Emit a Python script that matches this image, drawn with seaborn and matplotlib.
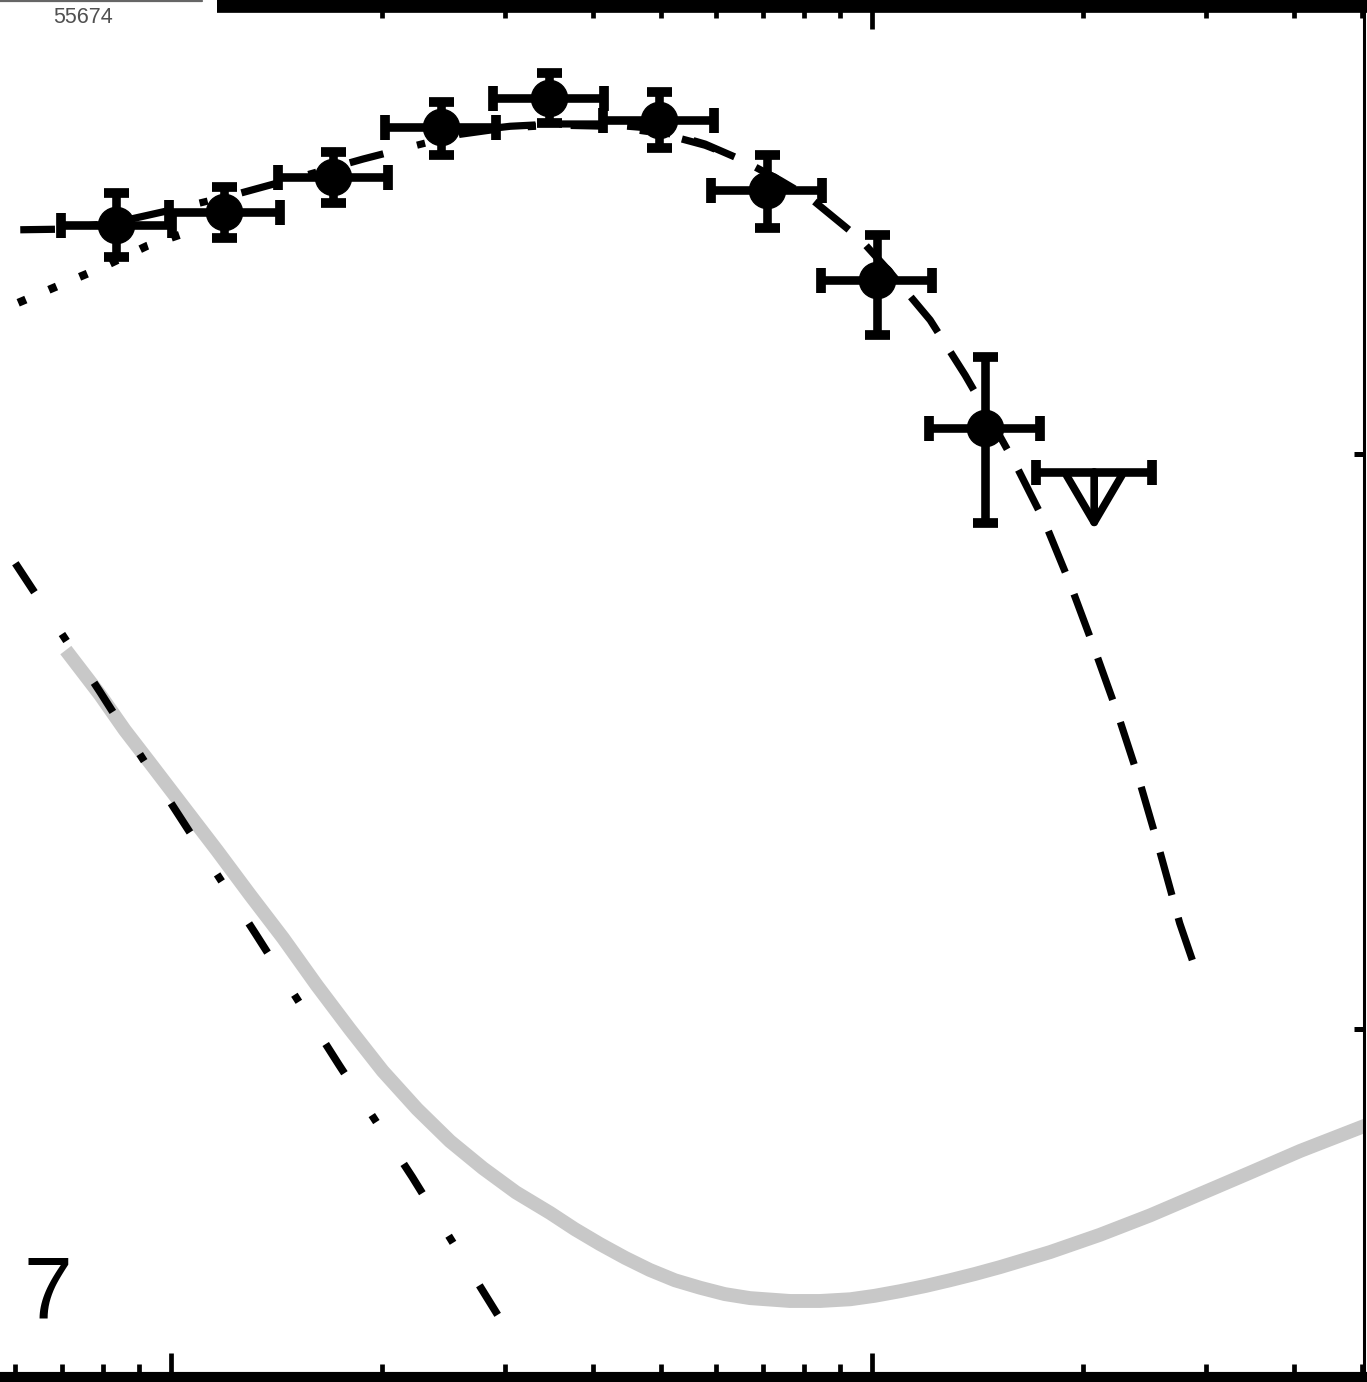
import numpy as np
import matplotlib
matplotlib.use("Agg")
import matplotlib.pyplot as plt
import seaborn as sns
from matplotlib.ticker import NullLocator, NullFormatter, LogLocator
from matplotlib.patches import Rectangle
from matplotlib.lines import Line2D

# ---------------- data (log10 nu [Hz], log10 nuFnu) ----------------
pt_lognu = [13.922, 14.076, 14.231, 14.385, 14.539, 14.696, 14.850, 15.007, 15.161]
pt_logf = [-11.602, -11.579, -11.518, -11.431, -11.381, -11.419, -11.541, -11.697, -11.955]
pt_dlo = [0.056, 0.045, 0.045, 0.049, 0.044, 0.049, 0.066, 0.096, 0.165]
pt_dhi = [0.056, 0.044, 0.044, 0.044, 0.044, 0.049, 0.061, 0.078, 0.123]
pt_dnu = 0.079

ul_lognu = [15.317]
ul_logf = [-12.031]
ul_dnu = 0.083
ul_arrow = 0.101

dot_lognu = [13.782, 13.842, 13.899, 13.966, 14.041]
dot_logf = [-11.737, -11.706, -11.677, -11.638, -11.607]

tot_lognu = [13.785, 13.842, 13.922, 13.999, 14.100, 14.184, 14.274, 14.341, 14.412,
             14.477, 14.548, 14.626, 14.698, 14.762, 14.819]
tot_logf = [-11.610, -11.609, -11.597, -11.576, -11.546, -11.518, -11.487, -11.466, -11.444,
            -11.433, -11.428, -11.430, -11.442, -11.463, -11.490]

dsh_lognu = [14.412, 14.484, 14.548, 14.612, 14.683, 14.762, 14.815, 14.869, 14.912, 14.983,
             15.026, 15.083, 15.133, 15.161, 15.204, 15.247, 15.284, 15.318, 15.350, 15.380,
             15.407, 15.439, 15.457]
dsh_logf = [-11.440, -11.430, -11.426, -11.426, -11.433, -11.461, -11.489, -11.524, -11.555, -11.626,
            -11.684, -11.767, -11.863, -11.922, -12.016, -12.120, -12.230, -12.341, -12.450, -12.562,
            -12.675, -12.816, -12.880]

stp_lognu = [13.778, 13.899, 14.001, 14.121, 14.240, 14.344, 14.469]
stp_logf = [-12.190, -12.414, -12.609, -12.835, -13.063, -13.257, -13.503]

gry_lognu = [13.850, 13.899, 13.934, 13.970, 14.017, 14.066, 14.113, 14.160, 14.208, 14.255,
             14.302, 14.351, 14.398, 14.445, 14.492, 14.541, 14.576, 14.612, 14.648, 14.683,
             14.719, 14.755, 14.790, 14.826, 14.883, 14.926, 14.969, 15.004, 15.040, 15.076,
             15.111, 15.147, 15.183, 15.254, 15.325, 15.397, 15.468, 15.539, 15.611, 15.710]
gry_logf = [-12.341, -12.419, -12.480, -12.537, -12.612, -12.690, -12.767, -12.842, -12.924, -13.000,
            -13.073, -13.139, -13.195, -13.242, -13.284, -13.320, -13.348, -13.374, -13.398, -13.419,
            -13.437, -13.450, -13.461, -13.468, -13.473, -13.473, -13.470, -13.464, -13.456, -13.447,
            -13.437, -13.426, -13.414, -13.388, -13.358, -13.324, -13.287, -13.250, -13.212, -13.165]

panel_label = "7"
legend_text = "55674"

# ---------------- figure ----------------
sns.set_theme(style="white")
plt.rcParams["font.family"] = ["Liberation Sans", "DejaVu Sans"]
plt.rcParams["lines.scale_dashes"] = False

W, H = 1367, 1382
fig = plt.figure(figsize=(W / 100, H / 100), dpi=100)
ax = fig.add_axes([0, 0, 1364 / W, 1])
ax.set_facecolor("white")
ax.set_xscale("log")
ax.set_yscale("log")
ax.set_xlim(10 ** 13.7561, 10 ** 15.7019)
ax.set_ylim(10 ** -13.6139, 10 ** -11.2104)


def draw(lognu, logf, color, lw, dashes, z, reverse=False):
    xs = 10 ** np.array(lognu)
    ys = 10 ** np.array(logf)
    if reverse:
        xs, ys = xs[::-1], ys[::-1]
    sns.lineplot(x=xs, y=ys, ax=ax, color=color, lw=lw, sort=False, estimator=None, zorder=z)
    ln = ax.lines[-1]
    if dashes is not None:
        ln.set_dashes(dashes)
    ln.set_dash_capstyle("butt")
    ln.set_solid_capstyle("butt")
    ln.set_solid_joinstyle("round")
    ln.set_dash_joinstyle("round")
    return ln


draw(gry_lognu, gry_logf, "#c8c8c8", 10, None, 1)
draw(stp_lognu, stp_logf, "black", 5.5, (25, 36, 6, 36), 2)
draw(dot_lognu, dot_logf, "black", 5.8, (6, 18), 2)
draw(tot_lognu, tot_logf, "black", 5.2, (25, 25, 6, 25), 2)
draw(dsh_lognu, dsh_logf, "black", 5.2, (32, 17), 2, reverse=True)

# data points
x = 10 ** np.array(pt_lognu)
y = 10 ** np.array(pt_logf)
xerr = np.vstack([x - 10 ** (np.array(pt_lognu) - pt_dnu), 10 ** (np.array(pt_lognu) + pt_dnu) - x])
yerr = np.vstack([y - 10 ** (np.array(pt_logf) - np.array(pt_dlo)),
                  10 ** (np.array(pt_logf) + np.array(pt_dhi)) - y])
ax.errorbar(x, y, xerr=xerr, yerr=yerr, fmt="o", color="black", ms=26, elinewidth=6.2,
            capsize=9, capthick=7, zorder=4)

# upper limit
ux = 10 ** np.array(ul_lognu)
uy = 10 ** np.array(ul_logf)
uxerr = np.vstack([ux - 10 ** (np.array(ul_lognu) - ul_dnu), 10 ** (np.array(ul_lognu) + ul_dnu) - ux])
ax.errorbar(ux, uy, xerr=uxerr, fmt="none", color="black", elinewidth=6.2,
            capsize=9, capthick=7, zorder=4)
for xx, yy in zip(ul_lognu, ul_logf):
    ax.annotate("", xy=(10 ** xx, 10 ** (yy - ul_arrow)), xytext=(10 ** xx, 10 ** yy),
                arrowprops=dict(arrowstyle="->,head_length=34,head_width=20", lw=5.5,
                                color="black", shrinkA=0, shrinkB=0, mutation_scale=1),
                zorder=4)

# axes styling
ax.spines["top"].set_linewidth(18.5)
ax.spines["bottom"].set_linewidth(14.5)
for s in ["top", "bottom", "right"]:
    ax.spines[s].set_color("black")
ax.spines["right"].set_linewidth(2.2)
ax.spines["left"].set_visible(False)
ax.xaxis.set_major_locator(LogLocator(base=10))
ax.xaxis.set_minor_locator(LogLocator(base=10, subs=np.arange(2, 10)))
ax.yaxis.set_minor_locator(NullLocator())
for a in (ax.xaxis, ax.yaxis):
    a.set_major_formatter(NullFormatter())
    a.set_minor_formatter(NullFormatter())
ax.tick_params(axis="x", which="both", direction="in", top=True, bottom=True,
               labelbottom=False, labeltop=False, color="black")
ax.tick_params(axis="x", which="major", length=21, width=3.4)
ax.tick_params(axis="x", which="minor", length=13, width=3.4)
ax.tick_params(axis="y", which="major", direction="in", left=False, right=True,
               labelleft=False, labelright=False, length=7.5, width=3.6, color="black")
ax.grid(False)

# panel number
fig.text(24 / W, 1 - 1318 / H, panel_label, fontsize=63, color="black",
         ha="left", va="baseline")

# legend fragment at top-left
fig.add_artist(Rectangle((0, 1 - 34 / H), 217 / W, 34 / H, transform=fig.transFigure,
                         facecolor="white", edgecolor="none", zorder=10))
fig.add_artist(Line2D([0, 202 / W], [1 - 1 / H, 1 - 1 / H], transform=fig.transFigure,
                      color="#666666", lw=1.6, zorder=11))
fig.text(53 / W, 1 - 23 / H, legend_text, fontsize=15.5, color="#505050",
         ha="left", va="baseline", zorder=12)

fig.savefig("out.png", dpi=100, facecolor="white")
